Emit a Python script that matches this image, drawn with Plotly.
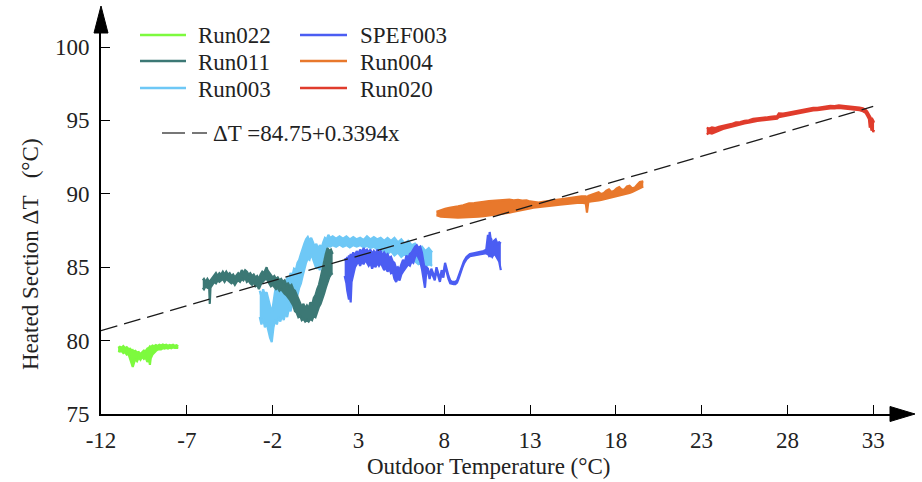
import plotly.graph_objects as go

FONT = "Liberation Serif"

# ---- measured runs: outdoor temperature (°C) vs heated-section ΔT (°C) ----
# each run is given as its scatter band: lower and upper envelope along x
run022_x = [-11.0, -10.9, -10.8, -10.7, -10.6, -10.5, -10.4, -10.3, -10.2, -10.15, -10.1, -10.0, -9.9,
            -9.8, -9.7, -9.6, -9.5, -9.4, -9.3, -9.2, -9.15, -9.1, -9.0, -8.9, -8.8, -8.7, -8.6, -8.5,
            -8.4, -8.3, -8.2, -8.1, -8.0, -7.9, -7.8, -7.7, -7.6, -7.5]
run022_hi = [79.50, 79.58, 79.52, 79.62, 79.48, 79.55, 79.42, 79.45, 79.30, 79.35, 79.25, 79.30, 79.18,
             79.22, 79.08, 79.20, 79.32, 79.28, 79.45, 79.52, 79.60, 79.55, 79.66, 79.62, 79.70, 79.64, 79.72, 79.66,
             79.74, 79.68, 79.72, 79.65, 79.70, 79.66, 79.72, 79.64, 79.68, 79.62]
run022_lo = [79.30, 79.25, 79.30, 79.15, 79.22, 79.05, 79.10, 78.75, 78.50, 78.20, 78.40, 78.75, 78.60,
             78.85, 78.70, 78.90, 78.75, 78.85, 78.55, 78.70, 78.35, 78.80, 79.05, 79.20, 79.30, 79.38, 79.42, 79.40,
             79.48, 79.45, 79.50, 79.46, 79.52, 79.48, 79.54, 79.50, 79.52, 79.50]

run011_x = [-6.07, -6.0, -5.9, -5.8, -5.7, -5.66, -5.62, -5.5, -5.4, -5.3, -5.2, -5.1, -5.0, -4.9, -4.8,
            -4.7, -4.6, -4.5, -4.4, -4.3, -4.2, -4.1, -4.0, -3.9, -3.8, -3.7, -3.6, -3.5, -3.4, -3.3,
            -3.2, -3.1, -3.0, -2.9, -2.8, -2.7, -2.6, -2.5, -2.4, -2.35, -2.3, -2.2, -2.1, -2.0, -1.9,
            -1.8, -1.7, -1.6, -1.5, -1.4, -1.3, -1.2, -1.1, -1.0, -0.9, -0.8, -0.7, -0.6, -0.5, -0.4,
            -0.3, -0.2, -0.1, 0.0, 0.1, 0.2, 0.3, 0.4, 0.5, 0.6, 0.7, 0.8, 0.9, 1.0, 1.1, 1.2, 1.3, 1.4, 1.5]
run011_hi = [84.1, 84.2, 84.0, 84.2, 84.0, 83.9, 84.1, 84.3, 84.4, 84.6, 84.4, 84.6, 84.5, 84.7, 84.5,
             84.7, 84.5, 84.6, 84.4, 84.5, 84.3, 84.5, 84.6, 84.5, 84.8, 84.6, 84.8, 84.7, 84.5, 84.6,
             84.4, 84.5, 84.3, 84.4, 84.2, 84.5, 84.7, 84.6, 84.9, 85.0, 84.8, 84.6, 84.5, 84.3, 84.4,
             84.2, 84.3, 84.1, 84.2, 84.0, 84.1, 83.8, 83.9, 83.7, 83.8, 83.5, 83.4, 83.1, 82.8, 82.6,
             82.3, 82.5, 82.2, 82.4, 82.2, 82.6, 82.4, 82.9, 83.1, 83.5, 83.8, 84.3, 84.9, 85.3, 85.9, 86.3, 86.1, 86.2, 85.9]
run011_lo = [83.6, 83.5, 83.7, 83.6, 83.7, 82.5, 83.6, 83.8, 84.0, 83.9, 84.1, 84.0, 84.1, 84.2, 84.0,
             84.2, 84.1, 84.0, 83.9, 84.0, 83.8, 84.0, 84.1, 84.0, 84.2, 84.1, 84.3, 84.0, 84.1, 83.9,
             83.8, 84.0, 83.7, 83.8, 83.5, 83.8, 84.0, 84.1, 84.2, 84.4, 84.1, 83.9, 83.7, 83.8, 83.6,
             83.5, 83.6, 83.4, 83.5, 83.3, 83.2, 83.1, 82.9, 82.8, 82.6, 82.4, 82.0, 81.9, 81.6, 81.7,
             81.4, 81.5, 81.3, 81.4, 81.3, 81.5, 81.4, 81.7, 81.6, 82.0, 82.3, 82.5, 82.8, 83.2, 83.6, 84.0, 84.3, 84.5, 84.6]

run003_x = [-2.75, -2.65, -2.55, -2.45, -2.35, -2.25, -2.15, -2.05, -2.0, -1.95, -1.85, -1.75, -1.65,
            -1.55, -1.45, -1.35, -1.25, -1.15, -1.05, -0.95, -0.85, -0.75, -0.65, -0.55, -0.45, -0.35,
            -0.25, -0.15, -0.05, 0.05, 0.15, 0.25, 0.35, 0.45, 0.55, 0.65, 0.75, 0.85, 0.95, 1.05, 1.15,
            1.25, 1.35, 1.5, 1.7, 1.9, 2.1, 2.3, 2.5, 2.7, 2.9, 3.1, 3.3, 3.5, 3.7, 3.9, 4.1, 4.3, 4.5,
            4.7, 4.9, 5.1, 5.3, 5.5, 5.7, 5.9, 6.1, 6.3, 6.5, 6.7, 6.9, 7.1, 7.3]
run003_hi = [83.4, 83.0, 83.5, 83.1, 83.3, 82.8, 82.4, 81.9, 82.2, 82.7, 83.4, 83.8, 83.4,
             83.9, 83.6, 84.1, 83.8, 84.3, 84.1, 84.6, 84.4, 84.9, 84.8, 85.3, 85.5, 85.9,
             86.3, 86.6, 86.9, 87.06, 86.8, 87.0, 86.7, 86.4, 86.6, 86.2, 86.5, 86.3, 86.7, 87.0, 86.9,
             87.2, 87.0, 87.1, 86.95, 87.1, 86.95, 87.1, 86.9, 87.05, 86.9, 87.0, 86.85, 87.1, 86.9, 87.05, 86.9, 87.0, 86.8,
             87.0, 86.8, 87.0, 86.7, 86.9, 86.6, 86.8, 86.5, 86.6, 86.3, 86.4, 86.1, 86.3, 86.0]
run003_lo = [81.6, 81.1, 81.5, 80.9, 81.2, 80.6, 80.2, 79.9, 80.4, 80.9, 81.4, 81.1, 81.6,
             81.3, 81.7, 81.4, 81.9, 81.6, 82.2, 82.0, 82.6, 82.4, 82.9, 83.1, 83.6, 83.9,
             84.4, 84.9, 85.3, 85.6, 85.5, 85.9, 85.6, 85.2, 84.9, 85.1, 84.8, 85.2, 85.6, 86.1, 86.3,
             86.5, 86.4, 86.5, 86.4, 86.55, 86.4, 86.5, 86.35, 86.5, 86.4, 86.5, 86.35, 86.45, 86.3, 86.4, 86.2, 86.3, 86.0,
             85.9, 86.1, 85.8, 86.0, 85.7, 85.9, 85.6, 85.7, 85.4, 85.2, 85.3, 85.0, 85.2, 85.1]

spef003_x = [2.2, 2.3, 2.35, 2.4, 2.45, 2.5, 2.55, 2.6, 2.7, 2.8, 2.9, 3.0, 3.1, 3.2, 3.3, 3.4, 3.5,
             3.6, 3.7, 3.8, 3.9, 4.0, 4.1, 4.2, 4.3, 4.4, 4.5, 4.6, 4.7, 4.8, 4.9, 5.0, 5.1, 5.2, 5.3,
             5.4, 5.5, 5.6, 5.7, 5.8, 5.9, 6.0, 6.1, 6.2, 6.3, 6.4, 6.5, 6.6, 6.7, 6.8, 6.88, 6.95, 7.05,
             7.15, 7.25, 7.35, 7.45, 7.55, 7.65, 7.75, 7.85, 7.95, 8.05, 8.15, 8.25, 8.35, 8.45, 8.55,
             8.65, 8.75, 8.85, 8.95, 9.05, 9.15, 9.3, 9.5, 9.7, 9.9, 10.1, 10.3, 10.45, 10.5, 10.55,
             10.6, 10.65, 10.7, 10.75, 10.8, 10.9, 11.0, 11.1, 11.2, 11.3]
spef003_hi = [85.6, 85.4, 85.7, 85.5, 85.8, 85.6, 85.9, 85.7, 86.0, 85.8, 86.1, 85.9, 86.2, 86.0, 86.3, 86.1, 86.2,
              86.0, 86.2, 85.9, 86.1, 85.9, 86.2, 86.0, 86.1, 85.8, 86.0, 85.8, 85.9, 85.6, 85.7, 85.4, 85.3, 84.9, 85.0,
              84.8, 85.2, 85.5, 85.3, 85.8, 85.6, 85.9, 86.0, 86.2, 86.4, 86.5, 86.3, 86.4, 86.0, 85.3, 84.8, 85.0, 84.9,
              84.4, 84.9, 84.6, 84.3, 85.0, 84.5, 84.2, 84.8, 84.5, 85.3, 84.8, 84.4, 84.1, 84.0, 84.0,
              84.0, 84.1, 84.4, 84.8, 85.1, 85.4, 85.7, 85.9, 85.95, 86.0, 86.05, 86.1, 86.2, 86.6, 87.2,
              86.7, 87.4, 87.0, 86.9, 86.4, 86.8, 86.9, 86.6, 86.7, 86.6]
spef003_lo = [84.4, 83.9, 83.4, 83.0, 82.8, 83.3, 82.6, 84.0, 84.6, 85.0, 85.2, 85.4, 85.1, 85.4, 85.2, 85.5, 85.3,
              85.1, 85.3, 84.9, 85.2, 85.0, 85.3, 85.1, 85.3, 85.0, 84.8, 85.0, 84.7, 84.9, 84.6, 84.7, 84.2, 84.0, 84.3,
              84.1, 84.5, 84.7, 84.9, 85.0, 85.2, 85.1, 85.4, 85.3, 85.7, 85.9, 85.6, 85.4, 84.9, 84.2, 83.6, 84.6, 84.7,
              84.2, 84.7, 84.4, 84.1, 84.8, 84.3, 84.0, 84.6, 84.3, 85.1, 84.6, 84.2, 83.9, 83.85, 83.85,
              83.85, 83.95, 84.25, 84.65, 84.95, 85.25, 85.55, 85.75, 85.8, 85.85, 85.9, 85.95, 85.95, 85.9, 85.9,
              85.8, 85.9, 85.7, 85.8, 85.7, 85.9, 85.8, 85.6, 85.4, 84.8]

run004_x = [7.55, 7.8, 8.05, 8.3, 8.55, 8.8, 9.1, 9.45, 9.75, 10.0, 10.3, 10.6, 10.9, 11.2, 11.5,
            11.8, 12.05, 12.3, 12.55, 12.8, 13.0, 13.2, 13.5, 13.75, 14.0, 14.25, 14.5, 14.75, 15.0,
            15.25, 15.5, 15.75, 16.0, 16.25, 16.32, 16.4, 16.55, 16.7, 16.85, 17.0, 17.15, 17.3, 17.45,
            17.6, 17.75, 17.9, 18.05, 18.2, 18.35, 18.5, 18.65, 18.8, 18.95, 19.1, 19.25, 19.4, 19.6]
run004_hi = [88.78, 88.90, 88.98, 89.05, 89.08, 89.15, 89.22, 89.35, 89.36, 89.42, 89.45, 89.50, 89.52, 89.55, 89.58,
             89.60, 89.56, 89.58, 89.54, 89.55, 89.48, 89.45, 89.40, 89.46, 89.50, 89.55, 89.60, 89.62, 89.68,
             89.70, 89.75, 89.76, 89.82, 89.82, 89.70, 89.85, 89.90, 89.95, 90.02, 90.10, 89.98, 90.05, 90.22,
             90.30, 90.12, 90.20, 90.36, 90.45, 90.28, 90.30, 90.50, 90.55, 90.38, 90.42, 90.62, 90.80, 90.85]
run004_lo = [88.55, 88.45, 88.42, 88.40, 88.38, 88.38, 88.40, 88.40, 88.42, 88.45, 88.48, 88.52, 88.58, 88.62, 88.68,
             88.72, 88.78, 88.85, 88.90, 88.95, 89.00, 89.05, 89.08, 89.12, 89.15, 89.18, 89.22, 89.26, 89.30,
             89.33, 89.36, 89.38, 89.40, 89.35, 88.72, 89.45, 89.48, 89.52, 89.54, 89.55, 89.58, 89.62, 89.68,
             89.75, 89.78, 89.80, 89.84, 89.90, 89.94, 89.98, 90.02, 90.05, 90.12, 90.20, 90.30, 90.40, 90.50]

run020_x = [23.3, 23.45, 23.6, 23.8, 24.0, 24.25, 24.5, 24.75, 25.0, 25.25, 25.5, 25.75, 26.0, 26.25,
            26.5, 26.75, 27.0, 27.25, 27.4, 27.5, 27.75, 28.0, 28.25, 28.5, 28.75, 29.0, 29.25, 29.5,
            29.75, 30.0, 30.25, 30.5, 30.75, 31.0, 31.25, 31.5, 31.75, 32.0, 32.2, 32.4, 32.55, 32.65,
            32.75, 32.8, 32.85, 32.9, 32.95, 33.0, 33.05]
run020_hi = [94.50, 94.45, 94.52, 94.48, 94.56, 94.62, 94.70, 94.76, 94.86, 94.88, 94.97, 95.00, 95.10, 95.12,
             95.17, 95.20, 95.25, 95.26, 95.30, 95.48, 95.46, 95.52, 95.58, 95.66, 95.68, 95.76, 95.80, 95.86,
             95.86, 95.92, 95.94, 95.99, 95.98, 96.02, 95.99, 95.96, 95.94, 95.92, 95.88, 95.82, 95.74, 95.62,
             95.45, 95.30, 95.20, 95.05, 95.10, 95.00, 94.85]
run020_lo = [94.05, 94.15, 94.10, 94.22, 94.30, 94.42, 94.50, 94.58, 94.66, 94.72, 94.80, 94.84, 94.92, 94.96,
             95.00, 95.04, 95.08, 95.10, 95.12, 95.22, 95.28, 95.35, 95.40, 95.48, 95.52, 95.58, 95.62, 95.68,
             95.70, 95.75, 95.78, 95.82, 95.82, 95.85, 95.82, 95.80, 95.78, 95.75, 95.70, 95.62, 95.52, 95.32,
             95.10, 94.50, 94.70, 94.30, 94.50, 94.20, 94.35]

# linear fit reported for all runs
fit_intercept = 84.75
fit_slope = 0.3394
fit_x = [-12, 33]
fit_label = "ΔT =84.75+0.3394x"

x_ticks = [-12, -7, -2, 3, 8, 13, 18, 23, 28, 33]
y_ticks = [75, 80, 85, 90, 95, 100]

colors = {
    "Run022": "#7dfa3e", "Run011": "#3c7875", "Run003": "#6ec8f6",
    "SPEF003": "#4b5df2", "Run004": "#e8782c", "Run020": "#e03c2c",
}

# drawing order (Run011 sits on top of Run003)
series = [
    ("Run022", run022_x, run022_lo, run022_hi),
    ("Run003", run003_x, run003_lo, run003_hi),
    ("Run011", run011_x, run011_lo, run011_hi),
    ("SPEF003", spef003_x, spef003_lo, spef003_hi),
    ("Run004", run004_x, run004_lo, run004_hi),
    ("Run020", run020_x, run020_lo, run020_hi),
]

# ---- page geometry (pixels) ----
W, H = 922, 482
ML, MR, MT, MB = 101, 32, 33, 68
PW, PH = W - ML - MR, H - MT - MB
X_RANGE = [-12, -12 + PW / 17.16]
Y_RANGE = [75, 75 + PH / 14.68]
FS = 23


def px(xp):
    return (xp - ML) / PW


def py(yp):
    return (H - MB - yp) / PH


fig = go.Figure()
for name, xs, lo, hi in series:
    col = colors[name]
    fig.add_trace(go.Scatter(x=xs, y=hi, mode="lines", name=name,
                             line=dict(color=col, width=2.2), showlegend=False,
                             hoverinfo="skip"))
    fig.add_trace(go.Scatter(x=xs, y=lo, mode="lines", name=name, fill="tonexty",
                             fillcolor=col, line=dict(color=col, width=2.2),
                             showlegend=False, hoverinfo="skip"))

fit_y = [fit_intercept + fit_slope * v for v in fit_x]
fig.add_trace(go.Scatter(x=fit_x, y=fit_y, mode="lines", name=fit_label,
                         line=dict(color="#1a1a1a", width=1.3, dash="17px,7px"),
                         showlegend=False, hoverinfo="skip"))

shapes = []
annotations = []

# legend block: two columns of run names
legend_cells = [
    ("Run022", 0, 0), ("Run011", 0, 1), ("Run003", 0, 2),
    ("SPEF003", 1, 0), ("Run004", 1, 1), ("Run020", 1, 2),
]
col_line = [(140, 186, 196), (300, 347, 358)]
row_y = [35, 61, 88]
for name, c, r in legend_cells:
    x0, x1, xt = col_line[c]
    yy = row_y[r]
    shapes.append(dict(type="line", xref="paper", yref="paper", x0=px(x0), x1=px(x1),
                       y0=py(yy), y1=py(yy), line=dict(color=colors[name], width=2.5)))
    annotations.append(dict(text=name, xref="paper", yref="paper", x=px(xt), y=py(yy + 1),
                            xanchor="left", yanchor="middle", showarrow=False,
                            font=dict(family=FONT, size=FS, color="#222")))

# fit line legend entry
shapes.append(dict(type="line", xref="paper", yref="paper", x0=px(162), x1=px(207),
                   y0=py(133), y1=py(133), line=dict(color="#777", width=2, dash="23px,7px")))
annotations.append(dict(text=fit_label, xref="paper", yref="paper", x=px(211), y=py(133),
                        xanchor="left", yanchor="middle", showarrow=False,
                        font=dict(family=FONT, size=FS, color="#222")))

# axis arrowheads
shapes.append(dict(type="path", xref="paper", yref="paper", fillcolor="black",
                   line=dict(color="black", width=1),
                   path=f"M {px(890)},{py(406.5)} L {px(915)},{py(414)} L {px(890)},{py(421.5)} Z"))
shapes.append(dict(type="path", xref="paper", yref="paper", fillcolor="black",
                   line=dict(color="black", width=1),
                   path=f"M {px(94)},{py(33)} L {px(101)},{py(6)} L {px(108)},{py(33)} Z"))

# axis titles
annotations.append(dict(text="Outdoor Temperature (°C)", xref="paper", yref="paper",
                        x=px(488), y=py(467), xanchor="center", yanchor="middle",
                        showarrow=False, font=dict(family=FONT, size=FS, color="#222")))
annotations.append(dict(text="Heated Section ΔT\u00a0\u00a0\u00a0(°C)", xref="paper", yref="paper",
                        x=px(30), y=py(254), xanchor="center", yanchor="middle", textangle=-90,
                        showarrow=False, font=dict(family=FONT, size=FS, color="#222")))

axis_common = dict(showline=True, linecolor="black", linewidth=1.6, ticks="inside",
                   ticklen=9, tickwidth=1.4, tickcolor="black", showgrid=False,
                   zeroline=False, mirror=False,
                   tickfont=dict(family=FONT, size=FS, color="#222"))

fig.update_layout(
    width=W, height=H,
    margin=dict(l=ML, r=MR, t=MT, b=MB),
    paper_bgcolor="white", plot_bgcolor="white",
    font=dict(family=FONT),
    xaxis=dict(range=X_RANGE, tickvals=x_ticks, ticktext=[str(v) for v in x_ticks],
               ticklabelstandoff=5, **axis_common),
    yaxis=dict(range=Y_RANGE, tickvals=y_ticks, ticktext=[str(v) for v in y_ticks],
               ticklabelstandoff=5, **axis_common),
    shapes=shapes, annotations=annotations,
    showlegend=False, hovermode=False,
)

fig.write_html("out.html")
